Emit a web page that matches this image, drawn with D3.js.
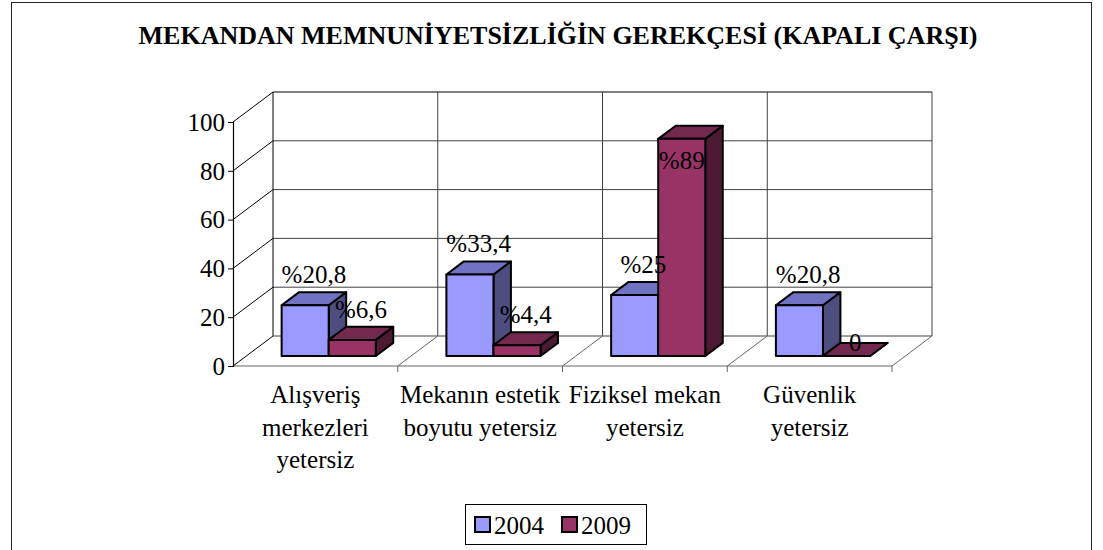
<!DOCTYPE html>
<html>
<head>
<meta charset="utf-8">
<script src="https://cdn.jsdelivr.net/npm/d3@7"></script>
<style>
  html, body { margin: 0; padding: 0; background: #fff; }
  svg { display: block; }
</style>
</head>
<body>
<svg id="chart" width="1103" height="550"></svg>
<script>
// Chart data
const title = "MEKANDAN MEMNUNİYETSİZLİĞİN GEREKÇESİ (KAPALI ÇARŞI)";
const categories = [
  "Alışveriş\nmerkezleri\nyetersiz",
  "Mekanın estetik\nboyutu yetersiz",
  "Fiziksel mekan\nyetersiz",
  "Güvenlik\nyetersiz"
];
const seriesNames = ["2004", "2009"];
const values2004 = [20.8, 33.4, 25, 20.8];
const values2009 = [6.6, 4.4, 89, 0];
const valueLabels2004 = ["%20,8", "%33,4", "%25", "%20,8"];
const valueLabels2009 = ["%6,6", "%4,4", "%89", "0"];
const yTicks = [0, 20, 40, 60, 80, 100];

// Colours per series: front, top, side faces
const palette = {
  "2004": { front: "#9999FF", top: "#7272C4", side: "#4D4D80" },
  "2009": { front: "#993366", top: "#73284D", side: "#4D1A33" }
};

const SERIF = "'Liberation Serif', 'Times New Roman', Times, serif";
const svg = d3.select("#chart").style("font-family", SERIF);
const txt = (sel) => sel.style("font-family", SERIF).style("fill", "#000");

// Outer frame
svg.append("rect")
  .attr("x", 11.5).attr("y", 2.5)
  .attr("width", 1080).attr("height", 580)
  .attr("fill", "none").attr("stroke", "#222").attr("stroke-width", 1);

// Title
svg.append("text")
  .attr("x", 558).attr("y", 44)
  .attr("text-anchor", "middle")
  .style("font-size", "26px").style("font-weight", "bold")
  .call(txt)
  .text(title);

// Front plane scales
const y = d3.scaleLinear().domain([0, 100]).range([366, 122]);
const x = d3.scaleBand().domain(d3.range(categories.length)).range([233, 892]).paddingInner(0).paddingOuter(0);
const xs = d3.scaleBand().domain(seriesNames).range([0, x.bandwidth()]).paddingInner(0).paddingOuter(0.75);

// Oblique depth projection
const DX = 40, DY = 30;
const proj = (px, v, d) => [px + DX * d, y(v) - DY * d];
const D0 = 1 / 3, D1 = 0.77;

const x0 = x.range()[0], x1 = x.range()[1];
const line = d3.line();

// Back wall gridlines
const grid = svg.append("g").attr("fill", "none");
yTicks.forEach(t => {
  if (t === 0) return;
  grid.append("path")
    .attr("d", line([proj(x0, t, 1), proj(x1, t, 1)]))
    .attr("stroke", t === 100 ? "#000" : "#404040").attr("stroke-width", 1);
});
// Back wall verticals at category boundaries
d3.range(categories.length + 1).forEach(i => {
  const bx = x0 + i * x.step();
  grid.append("path")
    .attr("d", line([proj(bx, 0, 1), proj(bx, 100, 1)]))
    .attr("stroke", i === 0 ? "#000" : "#404040").attr("stroke-width", 1);
});
// Back wall floor edge
grid.append("path")
  .attr("d", line([proj(x0, 0, 1), proj(x1, 0, 1)]))
  .attr("stroke", "#404040");

// Floor: front edge and diagonals at category boundaries
grid.append("path")
  .attr("d", line([proj(x0, 0, 0), proj(x1, 0, 0)]))
  .attr("stroke", "#666");
d3.range(1, categories.length + 1).forEach(i => {
  const bx = x0 + i * x.step();
  grid.append("path")
    .attr("d", line([proj(bx, 0, 0), proj(bx, 0, 1)]))
    .attr("stroke", "#666");
  // category tick below the floor edge
  grid.append("path")
    .attr("d", line([[bx, y(0)], [bx, y(0) + 6]]))
    .attr("stroke", "#666");
});

// Side wall diagonals
yTicks.forEach(t => {
  grid.append("path")
    .attr("d", line([proj(x0, t, 0), proj(x0, t, 1)]))
    .attr("stroke", "#000");
});

// Value axis
const yAxis = d3.axisLeft(y).tickValues(yTicks).tickSize(5).tickPadding(3).tickFormat(d3.format("d"));
const ag = svg.append("g").attr("transform", `translate(${x0},0)`).call(yAxis);
ag.attr("font-family", null).attr("font-size", null);
ag.select(".domain").attr("stroke", "#000").attr("stroke-width", 1.2);
ag.selectAll(".tick line").attr("stroke", "#000");
ag.selectAll(".tick text")
  .style("font-size", "25px").attr("dy", "0.33em")
  .call(txt);

// Bars
const bars = svg.append("g").attr("stroke", "#000").attr("stroke-width", 2).attr("stroke-linejoin", "round");
const labels = svg.append("g");
const poly = pts => "M" + pts.map(p => p.join(",")).join("L") + "Z";

categories.forEach((c, i) => {
  seriesNames.forEach((s, j) => {
    const v = (j === 0 ? values2004 : values2009)[i];
    const lab = (j === 0 ? valueLabels2004 : valueLabels2009)[i];
    const col = palette[s];
    const bx0 = x(i) + xs(s), bx1 = bx0 + xs.bandwidth();
    const g = bars.append("g");
    g.append("path").attr("fill", col.side)
      .attr("d", poly([proj(bx1, 0, D0), proj(bx1, 0, D1), proj(bx1, v, D1), proj(bx1, v, D0)]));
    g.append("path").attr("fill", col.top)
      .attr("d", poly([proj(bx0, v, D0), proj(bx1, v, D0), proj(bx1, v, D1), proj(bx0, v, D1)]));
    g.append("path").attr("fill", col.front)
      .attr("d", poly([proj(bx0, 0, D0), proj(bx1, 0, D0), proj(bx1, v, D0), proj(bx0, v, D0)]));

    // Data label
    const midD = (D0 + D1) / 2;
    const cx = (bx0 + bx1) / 2;
    const backTop = proj(cx, v, D1)[1];
    let lx = proj(cx, v, midD)[0], ly = backTop - 9;
    if (v === 0) {
      ly = backTop + 8;
    } else if (ly - 25 < y(100)) {
      // not enough room above: place inside the top of the front face
      lx = proj(cx, v, D0)[0];
      ly = proj(cx, v, D0)[1] + 30;
    }
    labels.append("text").attr("x", lx).attr("y", ly)
      .attr("text-anchor", "middle").style("font-size", "25px")
      .call(txt).text(lab);
  });
});

// Category labels
const catG = svg.append("g");
categories.forEach((c, i) => {
  const cxm = x(i) + x.bandwidth() / 2;
  const t = catG.append("text").attr("x", cxm).attr("y", 403)
    .attr("text-anchor", "middle").style("font-size", "25px").call(txt);
  c.split("\n").forEach((ln, k) => {
    t.append("tspan").attr("x", cxm).attr("dy", k === 0 ? 0 : 32.5).text(ln);
  });
});

// Legend
const lg = svg.append("g");
lg.append("rect").attr("x", 465.5).attr("y", 504.5).attr("width", 181).attr("height", 40)
  .attr("fill", "#fff").attr("stroke", "#000").attr("stroke-width", 1);
const legendX = { "2004": 475, "2009": 562 };
seriesNames.forEach(s => {
  lg.append("rect").attr("x", legendX[s]).attr("y", 517).attr("width", 15).attr("height", 15)
    .attr("fill", palette[s].front).attr("stroke", "#000").attr("stroke-width", 2);
  lg.append("text").attr("x", legendX[s] + 19).attr("y", 534)
    .style("font-size", "25px").call(txt).text(s);
});
</script>
</body>
</html>
